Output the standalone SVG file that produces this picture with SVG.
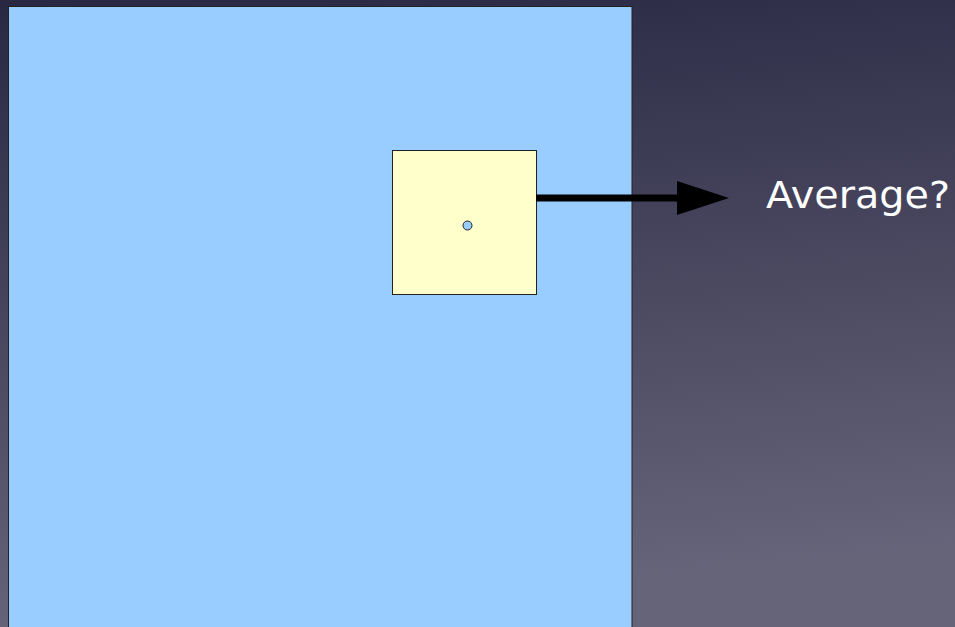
<svg xmlns="http://www.w3.org/2000/svg" width="955" height="627" viewBox="0 0 955 627">
<defs>
<linearGradient id="bg" x1="0" y1="0" x2="0.15" y2="1">
<stop offset="0" stop-color="#292843"/>
<stop offset="1" stop-color="#666479"/>
</linearGradient>
<marker id="ah" markerUnits="userSpaceOnUse" markerWidth="52" markerHeight="34" refX="0" refY="17" orient="auto" viewBox="0 0 52 34">
<path d="M0,0 L52,17 L0,34 Z" fill="#000"/>
</marker>
<style>
.lbl{font-family:"DejaVu Sans","Liberation Sans",sans-serif;font-size:38px;fill:#ffffff}
.box{stroke:#222;stroke-width:1}
</style>
</defs>
<rect x="0" y="0" width="955" height="627" fill="url(#bg)"/>
<g id="area">
<rect class="box" x="8.5" y="6.5" width="623.5" height="630" fill="#99ccff"/>
</g>
<g id="window">
<rect class="box" x="392.5" y="150.5" width="144" height="144" fill="#ffffcc"/>
<circle class="box" cx="467.5" cy="225.5" r="4.5" fill="#99ccff"/>
</g>
<g id="connectors">
<line x1="536" y1="198" x2="677" y2="198" stroke="#000" stroke-width="7" marker-end="url(#ah)"/>
</g>
<g id="label">
<text class="lbl" x="766" y="208" textLength="184" lengthAdjust="spacingAndGlyphs">Average?</text>
</g>
</svg>
